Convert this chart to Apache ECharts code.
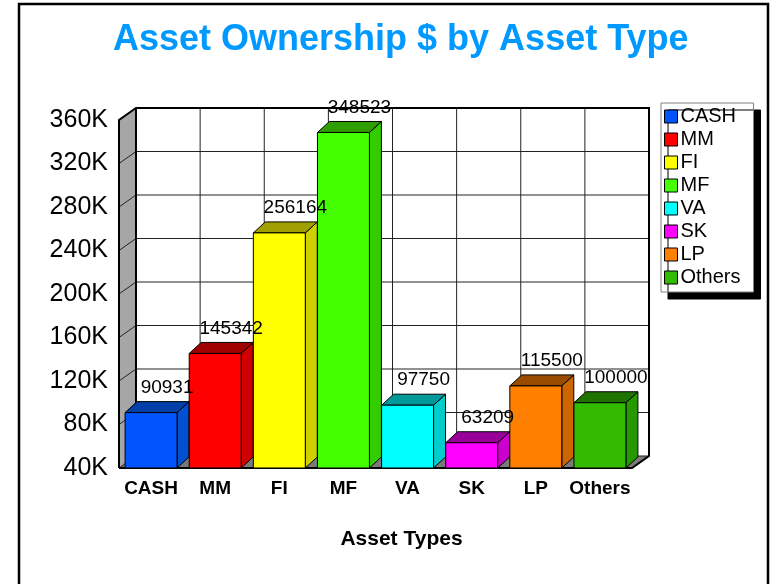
<!DOCTYPE html>
<html>
<head>
<meta charset="utf-8">
<script src="https://cdn.jsdelivr.net/npm/echarts@6/dist/echarts.min.js"></script>
<style>
  html, body { margin: 0; padding: 0; background: #fff; }
  #chart { width: 784px; height: 584px; }
</style>
</head>
<body>
<div id="chart"></div>
<script>
var categories = ['CASH', 'MM', 'FI', 'MF', 'VA', 'SK', 'LP', 'Others'];
var values = [90931, 145342, 256164, 348523, 97750, 63209, 115500, 100000];
var yTicks = [40000, 80000, 120000, 160000, 200000, 240000, 280000, 320000, 360000];
var frontColors = ['#0055ff', '#ff0000', '#ffff00', '#44ff00', '#00ffff', '#ff00ff', '#ff8000', '#33bb00'];
var topColors = ['#0040a8', '#a00000', '#a0a000', '#2e9e00', '#009999', '#990099', '#994c00', '#1f7300'];
var sideColors = ['#0050d0', '#d00000', '#d0d000', '#33cc00', '#00cccc', '#cc00cc', '#cc6600', '#279900'];

var FONT = '"Liberation Sans", Arial, sans-serif';
var WALL_DX = 17, WALL_DY = 12;   // depth of the box
var BAR_DX = 12, BAR_DY = 11;     // depth of each bar
var BAR_RATIO = 0.81;

var chart = echarts.init(document.getElementById('chart'));

// walls, floor and grid of the 3d box
function renderWalls(params, api) {
  var cs = params.coordSys;
  var L = cs.x, R = cs.x + cs.width, T = cs.y, B = cs.y + cs.height;
  var dx = WALL_DX, dy = WALL_DY;
  var kids = [];
  var thin = { stroke: '#222', lineWidth: 1 };
  var thick = { stroke: '#000', lineWidth: 2 };

  kids.push({ type: 'polygon', shape: { points: [[L + dx, T - dy], [R + dx, T - dy], [R + dx, B - dy], [L + dx, B - dy]] }, style: { fill: '#fff' } });
  kids.push({ type: 'polygon', shape: { points: [[L, T], [L + dx, T - dy], [L + dx, B - dy], [L, B]] }, style: { fill: '#a6a6a6' } });
  kids.push({ type: 'polygon', shape: { points: [[L, B], [R, B], [R + dx, B - dy], [L + dx, B - dy]] }, style: { fill: '#7a7a7a' } });

  yTicks.forEach(function (v) {
    var y = api.coord([0, v])[1];
    kids.push({ type: 'line', shape: { x1: L + dx, y1: y - dy, x2: R + dx, y2: y - dy }, style: thin });
    kids.push({ type: 'line', shape: { x1: L, y1: y, x2: L + dx, y2: y - dy }, style: thin });
  });
  var n = categories.length;
  for (var k = 1; k < n; k++) {
    var x = L + dx + k * cs.width / n;
    kids.push({ type: 'line', shape: { x1: x, y1: T - dy, x2: x, y2: B - dy }, style: thin });
  }
  // heavy outline
  kids.push({ type: 'polyline', shape: { points: [[L, B], [L, T], [L + dx, T - dy], [R + dx, T - dy], [R + dx, B - dy], [R, B], [L, B]] }, style: { stroke: '#000', lineWidth: 2, fill: null } });
  kids.push({ type: 'line', shape: { x1: L + dx, y1: T - dy, x2: L + dx, y2: B - dy }, style: thick });
  return { type: 'group', children: kids };
}

function makeBarRenderer(i) {
  return function (params, api) {
    var cat = api.value(0), val = api.value(1);
    var top = api.coord([cat, val]);
    var base = api.coord([cat, yTicks[0]]);
    var bw = api.size([1, 0])[0] * BAR_RATIO;
    var x0 = top[0] - bw / 2, x1 = top[0] + bw / 2;
    var yt = top[1], yb = base[1];
    var dx = BAR_DX, dy = BAR_DY;
    var edge = { stroke: '#000', lineWidth: 1 };
    return {
      type: 'group',
      children: [
        { type: 'polygon', shape: { points: [[x1, yt], [x1 + dx, yt - dy], [x1 + dx, yb - dy], [x1, yb]] }, style: Object.assign({ fill: sideColors[i] }, edge) },
        { type: 'polygon', shape: { points: [[x0, yt], [x1, yt], [x1 + dx, yt - dy], [x0 + dx, yt - dy]] }, style: Object.assign({ fill: topColors[i] }, edge) },
        { type: 'rect', shape: { x: x0, y: yt, width: bw, height: yb - yt }, style: Object.assign({ fill: frontColors[i] }, edge) }
      ]
    };
  };
}

function renderLabel(params, api) {
  var top = api.coord([api.value(0), api.value(1)]);
  return {
    type: 'text', x: top[0] + 16, y: top[1] - 25,
    style: { text: String(api.value(1)), fill: '#000', fontSize: 19, fontFamily: FONT, align: 'center', verticalAlign: 'middle' }
  };
}

var series = [{
  type: 'custom', name: 'box', z: 1, silent: true,
  renderItem: renderWalls, data: [[0, yTicks[0]]]
}];
categories.forEach(function (c, i) {
  series.push({
    type: 'custom', name: c, z: 2,
    itemStyle: { color: frontColors[i] },
    renderItem: makeBarRenderer(i),
    data: [[i, values[i]]]
  });
});
series.push({
  type: 'custom', name: 'labels', z: 5, silent: true,
  renderItem: renderLabel,
  data: values.map(function (v, i) { return [i, v]; })
});

chart.setOption({
  animation: false,
  backgroundColor: '#fff',
  title: {
    text: 'Asset Ownership $ by Asset Type',
    left: 108, top: 17,
    textStyle: {
      fontFamily: FONT, fontSize: 36, fontWeight: 'bold', color: '#0099ff',
      textShadowColor: '#000', textShadowOffsetX: 2, textShadowOffsetY: 2, textShadowBlur: 0
    }
  },
  legend: {
    data: categories,
    orient: 'vertical', left: 661, top: 103,
    icon: 'rect', itemWidth: 13, itemHeight: 13, itemGap: 0,
    padding: [2, 13, 3, 3],
    backgroundColor: '#fff', borderColor: '#808080', borderWidth: 1,
    shadowColor: '#000', shadowBlur: 0, shadowOffsetX: 7, shadowOffsetY: 7,
    itemStyle: { borderColor: '#000', borderWidth: 1 },
    textStyle: { fontFamily: FONT, fontSize: 20, color: '#000', lineHeight: 23, padding: [0, 0, 0, -2] }
  },
  grid: { left: 119, right: 152, top: 120, bottom: 116 },
  xAxis: {
    type: 'category', data: categories,
    axisLine: { show: false }, axisTick: { show: false },
    axisLabel: { interval: 0, fontFamily: FONT, fontSize: 19, fontWeight: 'bold', color: '#000', margin: 11 },
    name: 'Asset Types', nameLocation: 'middle', nameGap: 61,
    nameTextStyle: { fontFamily: FONT, fontSize: 21, fontWeight: 'bold', color: '#000', padding: [0, 0, 0, 52] }
  },
  yAxis: {
    type: 'value', min: yTicks[0], max: yTicks[yTicks.length - 1], interval: 40000,
    axisLine: { show: false }, axisTick: { show: false }, splitLine: { show: false },
    axisLabel: {
      fontFamily: FONT, fontSize: 25, color: '#000', margin: 11,
      formatter: function (v) { return (v / 1000) + 'K'; }
    }
  },
  graphic: [{
    type: 'rect', silent: true, z: 100,
    shape: { x: 19, y: 4, width: 749, height: 600 },
    style: { fill: null, stroke: '#000', lineWidth: 2.5 }
  }],
  series: series
});
</script>
</body>
</html>
